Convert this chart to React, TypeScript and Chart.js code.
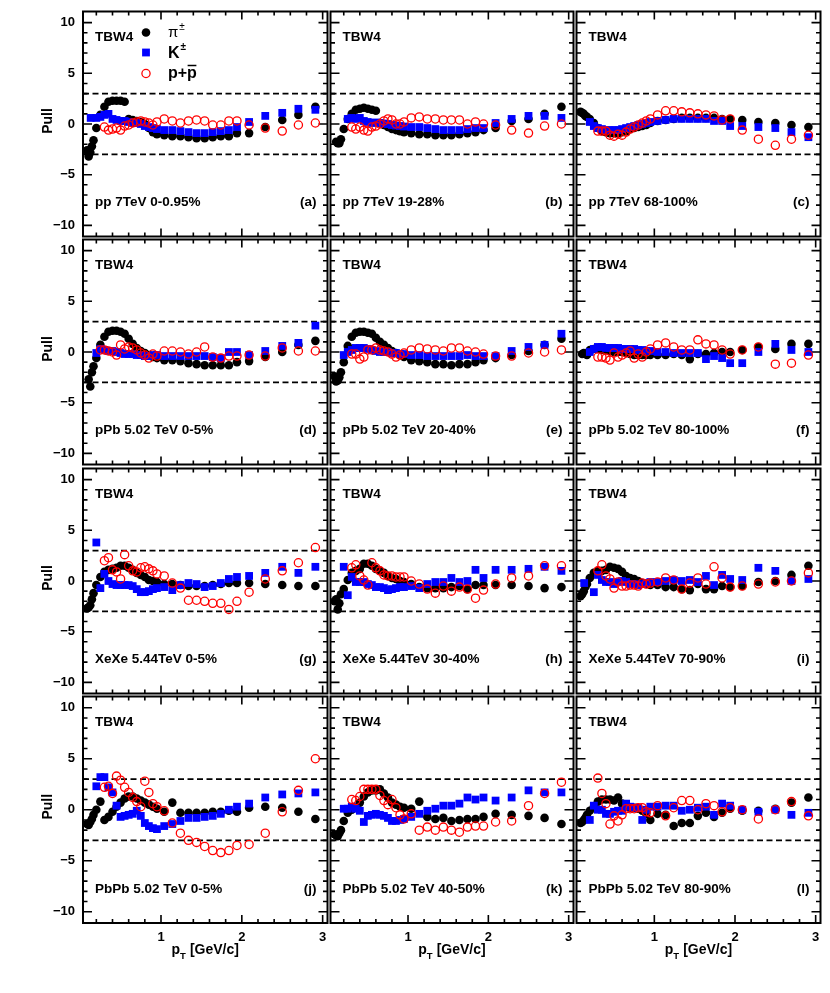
import { useEffect, useRef } from "react";
import Chart from "chart.js/auto";

// pT bin centres (GeV/c)
const PI_PT = [0.085, 0.105, 0.125, 0.145, 0.165, 0.2, 0.25, 0.3, 0.35, 0.4, 0.45, 0.5, 0.55, 0.6, 0.65, 0.7, 0.75, 0.8, 0.85, 0.9, 0.95, 1.04, 1.14, 1.24, 1.34, 1.44, 1.54, 1.64, 1.74, 1.84, 1.94, 2.09, 2.29, 2.5, 2.7, 2.91];
const K_PT = [0.13, 0.2, 0.25, 0.3, 0.35, 0.4, 0.45, 0.5, 0.55, 0.6, 0.65, 0.7, 0.75, 0.8, 0.85, 0.9, 0.95, 1.04, 1.14, 1.24, 1.34, 1.44, 1.54, 1.64, 1.74, 1.84, 1.94, 2.09, 2.29, 2.5, 2.7, 2.91];
const P_PT = [0.25, 0.3, 0.35, 0.4, 0.45, 0.5, 0.55, 0.6, 0.65, 0.7, 0.75, 0.8, 0.85, 0.9, 0.95, 1.04, 1.14, 1.24, 1.34, 1.44, 1.54, 1.64, 1.74, 1.84, 1.94, 2.09, 2.29, 2.5, 2.7, 2.91];

// pion pulls, panels (a)..(l)
const PI_A = [-2.6, -3.2, -2.8, -2.2, -1.6, -0.4, 0.9, 1.7, 2.2, 2.3, 2.3, 2.3, 2.2, 0.5, 0.4, 0.3, 0.2, 0.0, -0.4, -0.8, -1.0, -1.1, -1.2, -1.2, -1.3, -1.4, -1.4, -1.3, -1.2, -1.2, -0.9, -0.9, -0.3, 0.4, 0.9, 1.7];
const PI_B = [null, -1.75, -1.9, -1.9, -1.5, -0.5, 0.5, 1.0, 1.4, 1.5, 1.6, 1.5, 1.4, 1.3, 0.1, -0.1, -0.3, -0.5, -0.6, -0.7, -0.8, -0.9, -1.0, -1.0, -1.1, -1.1, -1.1, -1.0, -0.9, -0.8, -0.6, -0.4, 0.3, 0.5, 1.0, 1.7];
const PI_C = [1.2, 1.1, 1.0, 0.8, 0.7, 0.5, 0.1, -0.4, -0.7, -0.8, -0.9, -0.9, -0.9, -0.8, -0.7, -0.5, -0.4, -0.3, -0.2, -0.1, 0.1, 0.3, 0.4, 0.5, 0.6, 0.6, 0.6, 0.6, 0.6, 0.5, 0.5, 0.4, 0.2, 0.1, -0.1, -0.3];
const PI_D = [null, -2.7, -3.4, -2.0, -1.4, -0.6, 0.7, 1.5, 2.0, 2.1, 2.1, 2.0, 1.8, 1.3, 0.8, 0.4, 0.1, -0.1, -0.3, -0.5, -0.6, -0.8, -0.8, -0.9, -1.1, -1.2, -1.3, -1.3, -1.3, -1.3, -1.0, -0.9, -0.5, 0.0, 0.7, 1.1];
const PI_E = [-2.4, -2.9, -2.8, -2.5, -2.0, -1.0, 0.6, 1.5, 1.9, 2.0, 2.0, 1.9, 1.8, 1.4, 1.0, 0.7, 0.4, 0.1, -0.1, -0.3, -0.5, -0.8, -0.9, -1.0, -1.2, -1.2, -1.3, -1.2, -1.2, -1.0, -0.8, -0.6, -0.3, 0.1, 0.7, 1.3];
const PI_F = [null, -0.2, -0.1, -0.2, -0.3, 0.2, 0.3, 0.3, 0.2, 0.2, 0.1, 0.0, 0.0, 0.0, -0.1, -0.2, -0.3, -0.3, -0.3, -0.3, -0.3, -0.3, -0.3, -0.2, -0.3, -0.7, -0.2, -0.2, -0.1, 0.0, 0.0, 0.2, 0.5, 0.3, 0.8, 0.8];
const PI_G = [-2.7, -2.6, -2.4, -1.8, -1.2, -0.4, 0.4, 0.9, 1.1, 1.2, 1.3, 1.5, 1.5, 1.3, 1.1, 0.8, 0.6, 0.4, 0.1, 0.0, -0.1, -0.3, -0.3, -0.4, -0.5, -0.5, -0.5, -0.4, -0.3, -0.2, -0.2, -0.2, -0.3, -0.4, -0.5, -0.5];
const PI_H = [-2.0, -1.8, -2.8, -2.2, -1.3, -0.8, 0.1, 0.8, 1.0, 1.2, 1.7, 1.7, 1.5, 1.2, 1.0, 0.8, 0.5, 0.3, 0.2, 0.0, -0.1, -0.3, -0.6, -0.7, -0.7, -0.7, -0.6, -0.5, -0.8, -0.4, -0.4, -0.4, -0.4, -0.5, -0.7, -0.6];
const PI_I = [-1.5, -1.3, -1.0, -0.6, -0.3, 0.3, 0.8, 1.0, 1.0, 1.1, 1.4, 1.3, 1.2, 0.9, 0.5, 0.3, 0.2, 0.0, -0.2, -0.3, -0.4, -0.4, -0.6, -0.6, -0.8, -0.9, -0.3, -0.8, -0.8, -0.5, -0.6, -0.5, -0.1, 0.0, 0.6, 1.5];
const PI_J = [-1.4, -1.5, -1.2, -0.9, -0.5, 0.0, 0.8, -1.0, -0.7, -0.2, 0.3, 0.7, 1.1, 1.3, 1.3, 1.1, 0.9, 0.7, 0.5, 0.3, 0.1, -0.2, 0.7, -0.3, -0.3, -0.3, -0.3, -0.2, -0.2, -0.1, -0.2, 0.2, 0.3, 0.2, -0.2, -0.9];
const PI_K = [-2.4, -2.5, -2.6, -2.3, -2.0, -1.1, -0.3, 0.0, 0.2, 0.7, 1.3, 1.7, 1.9, 1.9, 2.0, 1.6, 1.2, 0.7, 0.5, 0.3, 0.2, 0.1, 0.8, -0.7, -0.9, -0.8, -1.1, -1.0, -0.9, -0.9, -0.7, -0.4, -0.5, -0.6, -0.8, -1.4];
const PI_L = [-1.3, -1.2, -1.0, -0.8, -0.5, -0.1, 0.3, 0.8, 1.0, 1.0, 1.0, 0.9, 1.2, 0.6, 0.3, 0.2, 0.2, 0.1, -0.1, -0.4, -1.0, -0.4, -0.5, -1.6, -1.3, -1.3, -0.6, -0.3, -0.7, -0.3, 0.1, -0.1, -0.1, 0.1, 0.7, 1.2];

// kaon pulls
const K_A = [0.6, 0.6, 0.7, 0.9, 1.0, 0.5, 0.4, 0.3, 0.3, 0.2, 0.1, 0.1, 0.0, -0.2, -0.3, -0.4, -0.5, -0.6, -0.6, -0.7, -0.8, -0.9, -0.9, -0.8, -0.7, -0.6, -0.3, 0.2, 0.8, 1.1, 1.5, 1.4];
const K_B = [null, null, 0.5, 0.6, 0.5, 0.6, 0.3, 0.2, 0.1, 0.15, 0.1, 0.05, 0.0, -0.1, -0.15, -0.2, -0.25, -0.3, -0.3, -0.4, -0.5, -0.6, -0.6, -0.6, -0.5, -0.4, -0.4, 0.1, 0.5, 0.8, 0.8, 0.6];
const K_C = [null, 0.2, -0.2, -0.4, -0.5, -0.6, -0.6, -0.6, -0.6, -0.5, -0.4, -0.3, -0.2, -0.1, 0.0, 0.1, 0.2, 0.3, 0.4, 0.5, 0.5, 0.5, 0.5, 0.5, 0.3, 0.3, -0.2, -0.2, -0.3, -0.4, -0.8, -1.3];
const K_D = [null, -0.1, 0.3, 0.2, 0.1, 0.1, 0.0, -0.1, -0.2, -0.2, -0.2, -0.3, -0.3, -0.4, -0.4, -0.3, -0.3, -0.4, -0.4, -0.4, -0.4, -0.4, -0.4, -0.5, -0.6, 0.0, 0.0, -0.3, 0.1, 0.6, 0.9, 2.6];
const K_E = [null, -0.3, 0.0, 0.2, 0.4, 0.4, 0.4, 0.3, 0.2, 0.1, 0.0, 0.0, 0.0, -0.1, -0.1, -0.2, -0.2, -0.3, -0.3, -0.4, -0.4, -0.4, -0.4, -0.4, -0.3, -0.4, -0.4, -0.4, 0.1, 0.5, 0.7, 1.8];
const K_F = [null, 0.0, 0.3, 0.5, 0.5, 0.4, 0.4, 0.4, 0.4, 0.3, 0.3, 0.3, 0.3, 0.2, 0.2, 0.1, 0.1, 0.0, 0.0, -0.1, -0.1, -0.1, -0.1, -0.7, -0.4, -0.6, -1.1, -1.1, 0.0, 0.8, 0.2, 0.0];
const K_G = [null, 3.8, -0.7, 0.7, 0.0, -0.3, -0.4, -0.4, -0.4, -0.4, -0.5, -0.8, -1.1, -1.1, -1.0, -0.8, -0.7, -0.6, -0.9, -0.4, -0.2, -0.3, -0.6, -0.5, -0.2, 0.2, 0.4, 0.5, 0.8, 1.4, 0.8, 1.4];
const K_H = [null, 1.4, -1.4, 0.4, -0.1, -0.1, -0.1, -0.3, -0.4, -0.6, -0.6, -0.7, -0.9, -0.8, -0.7, -0.6, -0.6, -0.5, -0.7, -0.3, -0.1, -0.1, 0.3, -0.1, 0.0, 1.1, 0.3, 1.1, 1.1, 1.2, 1.4, 1.0];
const K_I = [-0.2, null, -1.1, 0.6, 0.1, -0.1, -0.1, -0.3, -0.1, 0.0, -0.1, -0.3, -0.3, -0.4, -0.3, -0.2, -0.1, -0.1, 0.0, 0.1, 0.0, 0.1, -0.1, 0.5, -0.4, 0.6, 0.2, 0.1, 1.3, 1.0, 0.0, 0.2];
const K_J = [null, 2.3, 3.2, 3.2, 2.2, 1.7, 0.4, -0.7, -0.6, -0.5, -0.4, -0.1, -0.6, -1.3, -1.6, -1.8, -1.9, -1.6, -1.4, -1.1, -0.8, -0.8, -0.7, -0.6, -0.4, 0.0, 0.3, 0.6, 1.2, 1.5, 1.6, 1.7];
const K_K = [null, 0.1, 0.1, 0.3, 0.1, -0.1, -1.2, -0.6, -0.5, -0.4, -0.5, -0.6, -0.8, -1.1, -1.1, -1.0, -0.9, -0.7, -0.4, -0.1, 0.1, 0.4, 0.4, 0.6, 1.2, 1.0, 1.2, 0.9, 1.2, 1.9, 1.7, 1.7];
const K_L = [null, -1.0, 0.4, 0.0, 0.0, -0.4, -0.4, -0.2, -0.1, -0.1, 0.6, 0.3, 0.2, 0.2, -1.0, 0.0, 0.3, 0.3, 0.4, 0.4, -0.1, 0.0, 0.2, 0.3, -0.5, 0.6, 0.4, 0.0, -0.2, 0.0, -0.5, -0.3];

// proton pulls
const P_A = [null, -0.3, -0.6, -0.5, -0.4, -0.6, -0.2, -0.1, 0.1, 0.2, 0.3, 0.2, 0.1, -0.1, 0.2, 0.5, 0.3, 0.1, 0.3, 0.4, 0.3, -0.1, -0.1, 0.3, 0.3, -0.1, -0.4, -0.7, -0.1, 0.1];
const P_B = [null, -0.3, -0.5, -0.3, -0.6, -0.7, -0.3, -0.2, 0.0, 0.3, 0.5, 0.4, 0.0, 0.0, 0.2, 0.6, 0.7, 0.5, 0.5, 0.4, 0.4, 0.4, 0.0, 0.2, 0.0, -0.1, -0.6, -0.9, -0.2, 0.0];
const P_C = [null, -0.7, -0.7, -0.7, -1.1, -1.2, -1.0, -1.1, -0.8, -0.5, -0.3, -0.1, 0.1, 0.3, 0.5, 0.9, 1.3, 1.3, 1.2, 1.1, 1.0, 0.9, 0.8, 0.4, 0.5, -0.6, -1.5, -2.1, -1.5, -1.1];
const P_D = [0.2, 0.2, 0.1, 0.0, -0.3, 0.7, 0.3, 0.5, 0.4, 0.2, -0.1, -0.3, -0.6, -0.2, -0.4, 0.1, 0.1, 0.0, -0.2, 0.0, 0.5, -0.5, -0.6, -0.4, -0.4, -0.3, -0.4, 0.4, 0.1, 0.1];
const P_E = [null, -0.2, -0.2, -0.7, -0.5, 0.2, 0.2, 0.4, 0.2, 0.1, 0.0, -0.2, -0.5, -0.3, -0.1, 0.2, 0.4, 0.3, 0.2, 0.1, 0.4, 0.4, 0.1, 0.0, -0.2, -0.4, -0.4, -0.1, 0.0, 0.2];
const P_F = [null, -0.5, -0.5, -0.6, -0.8, -0.1, -0.5, -0.3, -0.1, 0.1, -0.6, -0.2, -0.5, 0.0, 0.3, 0.7, 0.9, 0.5, 0.2, 0.2, 1.2, 0.8, 0.7, 0.2, -0.2, 0.2, 0.5, -1.2, -1.1, -0.3];
const P_G = [null, 2.0, 2.3, 1.1, 0.9, 0.2, 2.6, 1.5, 1.0, 0.9, 1.3, 1.4, 1.2, 1.0, 0.7, 0.5, -0.2, -0.7, -1.9, -1.9, -2.0, -2.2, -2.2, -2.8, -2.0, -1.1, 0.2, 1.0, 1.8, 3.3];
const P_H = [null, 1.3, 1.6, 0.5, 0.1, -0.4, 1.8, 1.3, 1.0, 0.6, 0.5, 0.5, 0.4, 0.4, 0.4, 0.0, -0.3, -0.8, -1.2, -0.5, -1.0, -0.6, -0.8, -1.7, -0.9, -0.3, 0.3, 0.5, 1.5, 1.5];
const P_I = [null, 1.0, 1.6, 0.5, 0.2, -0.7, -0.1, -0.5, -0.5, -0.4, -0.4, -0.5, -0.2, -0.3, -0.2, -0.1, 0.3, 0.1, -0.8, -0.2, 0.3, -0.3, 1.4, 0.3, -0.6, -0.5, -0.3, -0.1, 0.0, 0.8];
const P_J = [null, 2.2, 2.3, 1.6, 3.3, 2.9, 2.2, 1.7, 1.2, 0.8, 0.3, 2.8, 1.7, 0.6, 0.3, -0.1, -1.3, -2.3, -3.0, -3.2, -3.6, -4.0, -4.2, -4.0, -3.5, -3.4, -2.3, -0.2, 1.9, 5.0];
const P_K = [null, 1.0, 0.9, 1.3, 2.0, 2.0, 2.0, 2.0, 1.4, 0.9, 0.5, 1.0, 0.2, -0.5, -0.9, -0.4, -2.0, -1.7, -2.0, -1.7, -2.0, -2.2, -1.7, -1.6, -1.6, -1.2, -1.1, 0.4, 1.6, 2.7];
const P_L = [null, 3.1, 1.6, 0.6, -1.4, -0.6, -1.1, -0.5, 0.1, 0.1, 0.1, 0.2, 0.2, -0.2, -0.3, 0.4, -0.6, 0.2, 0.9, 0.9, 0.0, 0.6, 0.4, -0.2, 0.2, 0.0, -0.9, 0.0, 0.8, -0.6];

const PI_PULLS = [PI_A, PI_B, PI_C, PI_D, PI_E, PI_F, PI_G, PI_H, PI_I, PI_J, PI_K, PI_L];
const K_PULLS = [K_A, K_B, K_C, K_D, K_E, K_F, K_G, K_H, K_I, K_J, K_K, K_L];
const P_PULLS = [P_A, P_B, P_C, P_D, P_E, P_F, P_G, P_H, P_I, P_J, P_K, P_L];

const PANEL_LABELS = [
  "pp 7TeV 0-0.95%", "pp 7TeV 19-28%", "pp 7TeV 68-100%",
  "pPb 5.02 TeV 0-5%", "pPb 5.02 TeV 20-40%", "pPb 5.02 TeV 80-100%",
  "XeXe 5.44TeV 0-5%", "XeXe 5.44TeV 30-40%", "XeXe 5.44TeV 70-90%",
  "PbPb 5.02 TeV 0-5%", "PbPb 5.02 TeV 40-50%", "PbPb 5.02 TeV 80-90%",
];
const PANEL_TAGS = ["(a)", "(b)", "(c)", "(d)", "(e)", "(f)", "(g)", "(h)", "(i)", "(j)", "(k)", "(l)"];

const Y_TICKS = [-10, -5, 0, 5, 10];
const X_TICKS = [1, 2, 3];
const PULL_LIMIT = 3;
const X_MIN = 0.035;
const X_MAX = 3.06;
const Y_MIN = -11.1;
const Y_MAX = 11.1;

// frame geometry in page pixels
const COL_X = [83, 329, 575];
const COL_W = [246, 246, 247];
const ROW_Y = [10, 238, 467, 695];
const ROW_H = 228;

const FONT = '"Liberation Sans", Arial, Helvetica, sans-serif';
const BLUE = "#0000ff";
const RED = "#ff0000";

const toPoints = (xs: number[], ys: (number | null)[]) =>
  xs.map((x, i) => ({ x, y: ys[i] })).filter((p) => p.y !== null);

const drawMarker = (ctx: CanvasRenderingContext2D, kind: string, x: number, y: number) => {
  ctx.save();
  if (kind === "pi") {
    ctx.fillStyle = "#000";
    ctx.beginPath();
    ctx.arc(x, y, 4.3, 0, Math.PI * 2);
    ctx.fill();
  } else if (kind === "k") {
    ctx.fillStyle = BLUE;
    ctx.fillRect(x - 3.9, y - 3.9, 7.8, 7.8);
  } else {
    ctx.strokeStyle = RED;
    ctx.lineWidth = 1.3;
    ctx.beginPath();
    ctx.arc(x, y, 4.1, 0, Math.PI * 2);
    ctx.stroke();
  }
  ctx.restore();
};

const framePlugin = (idx: number) => ({
  id: `frame${idx}`,
  beforeDatasetsDraw(chart: any) {
    const { ctx, chartArea, scales } = chart;
    const { left, right, top, bottom } = chartArea;
    ctx.save();
    ctx.strokeStyle = "#000";
    ctx.lineWidth = 1.6;
    ctx.beginPath();
    // inward ticks, ROOT style
    for (let v = -10; v <= 10; v++) {
      const py = scales.y.getPixelForValue(v);
      const len = v % 5 === 0 ? 9 : 4.5;
      ctx.moveTo(left, py);
      ctx.lineTo(left + len, py);
      ctx.moveTo(right, py);
      ctx.lineTo(right - len, py);
    }
    for (let k = 1; k <= 15; k++) {
      const px = scales.x.getPixelForValue(k * 0.2);
      const len = k % 5 === 0 ? 8 : 4;
      ctx.moveTo(px, bottom);
      ctx.lineTo(px, bottom - len);
      ctx.moveTo(px, top);
      ctx.lineTo(px, top + len);
    }
    ctx.stroke();
    ctx.lineWidth = 2;
    ctx.strokeRect(left, top, right - left, bottom - top);
    ctx.restore();
  },
  afterDraw(chart: any) {
    const { ctx, chartArea, scales } = chart;
    const { left, right, top, bottom } = chartArea;
    const row = Math.floor(idx / 3);
    const col = idx % 3;
    ctx.save();
    ctx.fillStyle = "#000";
    ctx.font = `bold 13.5px ${FONT}`;
    ctx.textBaseline = "middle";
    ctx.textAlign = "left";
    ctx.fillText("TBW4", left + 12, top + 26);
    ctx.fillText(PANEL_LABELS[idx], left + 12, bottom - 34);
    ctx.textAlign = "right";
    ctx.fillText(PANEL_TAGS[idx], right - 11, bottom - 34);

    if (col === 0) {
      ctx.font = `bold 13px ${FONT}`;
      ctx.textAlign = "right";
      for (const v of Y_TICKS) {
        const label = v < 0 ? `\u2212${Math.abs(v)}` : String(v);
        ctx.fillText(label, left - 8, scales.y.getPixelForValue(v));
      }
      ctx.save();
      ctx.font = `bold 14px ${FONT}`;
      ctx.translate(48, (top + bottom) / 2 - 3);
      ctx.rotate(-Math.PI / 2);
      ctx.textAlign = "center";
      ctx.fillText("Pull", 0, 0);
      ctx.restore();
    }

    if (row === 3) {
      ctx.font = `bold 13px ${FONT}`;
      ctx.textAlign = "center";
      for (const v of X_TICKS) {
        ctx.fillText(String(v), scales.x.getPixelForValue(v), bottom + 14);
      }
      // p_T [GeV/c]
      ctx.textBaseline = "alphabetic";
      ctx.textAlign = "left";
      const big = `bold 14px ${FONT}`;
      const small = `bold 9.5px ${FONT}`;
      ctx.font = big;
      const wP = ctx.measureText("p").width;
      const wRest = ctx.measureText("[GeV/c]").width;
      ctx.font = small;
      const wT = ctx.measureText("T").width;
      const total = wP + wT + 4 + wRest;
      let x0 = (left + right) / 2 - total / 2;
      const base = bottom + 31;
      ctx.font = big;
      ctx.fillText("p", x0, base);
      x0 += wP;
      ctx.font = small;
      ctx.fillText("T", x0, base + 5);
      x0 += wT + 4;
      ctx.font = big;
      ctx.fillText("[GeV/c]", x0, base);
    }

    if (idx === 0) {
      const mx = left + 63;
      const tx = left + 85;
      drawMarker(ctx, "pi", mx, top + 21);
      drawMarker(ctx, "k", mx, top + 41);
      drawMarker(ctx, "p", mx, top + 62);
      ctx.textBaseline = "alphabetic";
      ctx.textAlign = "left";
      ctx.font = `15px ${FONT}`;
      ctx.fillText("\u03c0", tx, top + 25);
      const wPi = ctx.measureText("\u03c0").width;
      ctx.font = `10px ${FONT}`;
      ctx.fillText("\u00b1", tx + wPi + 1, top + 18);
      ctx.font = `bold 16px ${FONT}`;
      ctx.fillText("K", tx, top + 46);
      const wK = ctx.measureText("K").width;
      ctx.font = `bold 10px ${FONT}`;
      ctx.fillText("\u00b1", tx + wK + 1, top + 38);
      ctx.font = `bold 16px ${FONT}`;
      ctx.fillText("p+p", tx, top + 66);
      const wPP = ctx.measureText("p+").width;
      const wp = ctx.measureText("p").width;
      ctx.lineWidth = 1.5;
      ctx.strokeStyle = "#000";
      ctx.beginPath();
      ctx.moveTo(tx + wPP + 0.5, top + 54);
      ctx.lineTo(tx + wPP + wp - 0.5, top + 54);
      ctx.stroke();
    }
    ctx.restore();
  },
});

const Panel = ({ idx }: { idx: number }) => {
  const canvasRef = useRef<HTMLCanvasElement>(null);
  const row = Math.floor(idx / 3);
  const col = idx % 3;
  const padL = col === 0 ? 83 : 4;
  const padR = 4;
  const padT = 4;
  const padB = row === 3 ? 70 : 4;
  const w = COL_W[col] + padL + padR;
  const h = ROW_H + padT + padB;

  useEffect(() => {
    if (!canvasRef.current) return;
    const limitLine = (v: number) => ({
      data: [
        { x: X_MIN, y: v },
        { x: X_MAX, y: v },
      ],
      showLine: true,
      borderColor: "#000",
      borderWidth: 1.8,
      borderDash: [6, 3.5],
      pointRadius: 0,
      order: 4,
    });
    const chart = new Chart(canvasRef.current, {
      type: "scatter",
      data: {
        datasets: [
          {
            label: "p+pbar",
            data: toPoints(P_PT, P_PULLS[idx]),
            pointStyle: "circle",
            pointRadius: 4.1,
            pointBorderWidth: 1.3,
            pointBorderColor: RED,
            pointBackgroundColor: "rgba(0,0,0,0)",
            clip: false,
            order: 1,
          },
          {
            label: "K",
            data: toPoints(K_PT, K_PULLS[idx]),
            pointStyle: "rect",
            pointRadius: 5.5,
            pointBorderWidth: 0,
            pointBorderColor: BLUE,
            pointBackgroundColor: BLUE,
            clip: false,
            order: 2,
          },
          {
            label: "pi",
            data: toPoints(PI_PT, PI_PULLS[idx]),
            pointStyle: "circle",
            pointRadius: 4.3,
            pointBorderWidth: 0,
            pointBorderColor: "#000",
            pointBackgroundColor: "#000",
            clip: false,
            order: 3,
          },
          limitLine(PULL_LIMIT),
          limitLine(-PULL_LIMIT),
        ],
      },
      options: {
        responsive: false,
        animation: false,
        layout: { padding: { left: padL, right: padR, top: padT, bottom: padB } },
        plugins: { legend: { display: false }, tooltip: { enabled: false } },
        scales: {
          x: { type: "linear", min: X_MIN, max: X_MAX, display: false },
          y: { type: "linear", min: Y_MIN, max: Y_MAX, display: false },
        },
      },
      plugins: [framePlugin(idx)],
    });
    return () => {
      chart.destroy();
    };
  }, [idx]);

  return (
    <canvas
      ref={canvasRef}
      width={w}
      height={h}
      style={{
        position: "absolute",
        left: COL_X[col] - padL,
        top: ROW_Y[row] - padT,
        width: w,
        height: h,
        display: "block",
      }}
    ></canvas>
  );
};

export default function App() {
  return (
    <div
      style={{
        position: "absolute",
        left: 0,
        top: 0,
        width: 830,
        height: 993,
        background: "#fff",
        overflow: "hidden",
      }}
    >
      {PANEL_LABELS.map((_, i) => (
        <Panel key={i} idx={i}></Panel>
      ))}
    </div>
  );
}
